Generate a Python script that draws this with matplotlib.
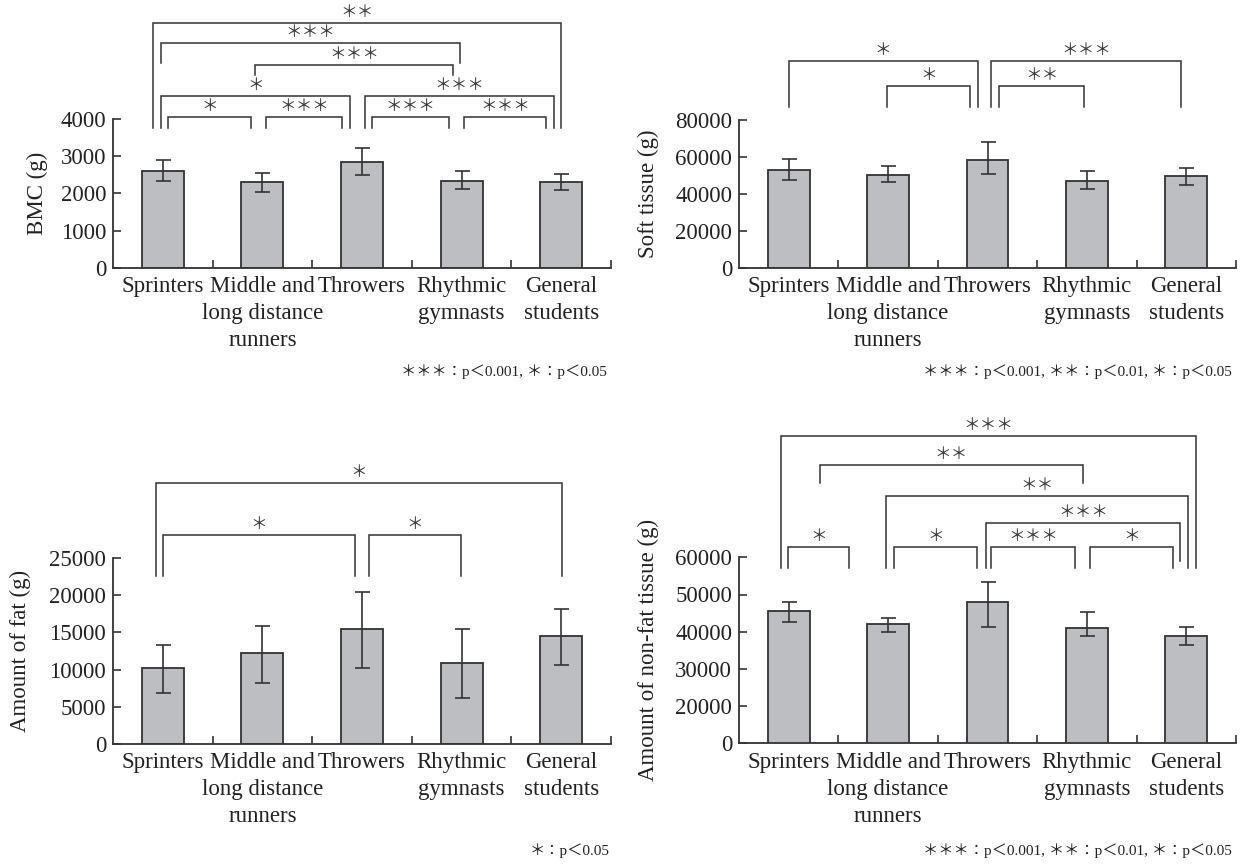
import matplotlib
matplotlib.use("Agg")
import matplotlib.pyplot as plt
import numpy as np

# ---------------- data ----------------
categories = ["Sprinters", "Middle and\nlong distance\nrunners", "Throwers",
              "Rhythmic\ngymnasts", "General\nstudents"]

bmc_mean = [2600, 2310, 2850, 2340, 2310]
bmc_err_lo = [270, 270, 365, 230, 225]
bmc_err_hi = [290, 245, 378, 260, 210]

soft_mean = [53000, 50000, 58100, 47000, 49500]
soft_err_lo = [5600, 3500, 7650, 4650, 4850]
soft_err_hi = [5750, 4900, 9650, 5200, 4350]

fat_mean = [10220, 12230, 15450, 10890, 14460]
fat_err_lo = [3300, 3970, 5180, 4640, 3840]
fat_err_hi = [3040, 3570, 5000, 4560, 3750]

nonfat_mean = [45600, 42000, 47900, 41080, 38840]
nonfat_err_lo = [2900, 2000, 6560, 2240, 2420]
nonfat_err_hi = [2500, 1600, 5460, 4140, 2420]

bmc_yticks = [0, 1000, 2000, 3000, 4000]
soft_yticks = [0, 20000, 40000, 60000, 80000]
fat_yticks = [0, 5000, 10000, 15000, 20000, 25000]
nonfat_yticks = [10000, 20000, 30000, 40000, 50000, 60000]
nonfat_yticklabels = ["0", "20000", "30000", "40000", "50000", "60000"]

# significance brackets: (x_left, x_right, y_top, y_leg_left, y_leg_right, label)
bmc_sig = [
    (0.055, 0.89, 4046, 3758, 3758, "＊"),
    (1.04, 1.80, 4046, 3758, 3758, "＊＊＊"),
    (2.10, 2.87, 4046, 3758, 3758, "＊＊＊"),
    (3.02, 3.85, 4046, 3758, 3758, "＊＊＊"),
    (-0.02, 1.88, 4619, 3758, 3758, "＊"),
    (2.03, 3.93, 4619, 3758, 3758, "＊＊＊"),
    (0.93, 2.91, 5445, 5184, 5184, "＊＊＊"),
    (-0.02, 2.98, 6036, 5498, 5498, "＊＊＊"),
    (-0.10, 4.00, 6574, 3758, 3758, "＊＊"),
]
soft_sig = [
    (0.00, 1.90, 111720, 87020, 87020, "＊"),
    (0.99, 1.82, 98370, 87020, 87020, "＊"),
    (2.04, 3.95, 111720, 87020, 87020, "＊＊＊"),
    (2.12, 2.97, 98370, 87020, 87020, "＊＊"),
]
fat_sig = [
    (-0.07, 4.01, 35120, 22580, 22580, "＊"),
    (0.00, 1.93, 28050, 22580, 22580, "＊"),
    (2.07, 2.99, 28050, 22580, 22580, "＊"),
]
nonfat_sig = [
    (-0.08, 4.095, 92600, 57040, 57040, "＊＊＊"),
    (0.31, 2.96, 84810, 79890, 79890, "＊＊"),
    (0.98, 4.02, 76560, 57040, 57040, "＊＊"),
    (1.98, 3.94, 69140, 57040, 59080, "＊＊＊"),
    (-0.01, 0.61, 62690, 57040, 57040, "＊"),
    (1.06, 1.89, 62690, 57040, 57040, "＊"),
    (2.04, 2.88, 62690, 57040, 57040, "＊＊＊"),
    (3.03, 3.87, 62690, 57040, 57040, "＊"),
]

note_3_1 = "＊＊＊：p＜0.001, ＊：p＜0.05"
note_full = "＊＊＊：p＜0.001, ＊＊：p＜0.01, ＊：p＜0.05"
note_1 = "＊：p＜0.05"

# ---------------- style ----------------
W, H = 1241, 864
fig = plt.figure(figsize=(W / 100, H / 100), dpi=100)
SERIF = ["Liberation Serif", "DejaVu Serif"]
MIXED = ["Liberation Serif", "Noto Sans CJK JP", "DejaVu Sans"]
TXT = "#222222"
LINE = "#333333"
BAR = "#bdbec2"


def px_axes(left, right, bottom, top):
    return fig.add_axes([left / W, 1 - bottom / H, (right - left) / W, (bottom - top) / H])


def panel(ax, mean, lo, hi, yticks, ylim, ylabel, label_x, sig, yticklabels=None):
    x = np.arange(len(categories))
    ax.bar(x, mean, width=0.42, color=BAR, edgecolor=LINE, linewidth=1.3, zorder=2)
    ax.errorbar(x, mean, yerr=[lo, hi], fmt="none", ecolor=LINE, elinewidth=1.2,
                capsize=5.4, capthick=1.2, zorder=3)
    ax.set_xlim(-0.5, len(categories) - 0.5)
    ax.set_ylim(*ylim)
    ax.set_yticks(yticks)
    if yticklabels is not None:
        ax.set_yticklabels(yticklabels)
    ax.set_xticks(np.arange(len(categories)) + 0.5)
    ax.set_xticklabels([])
    ax.set_xticks(x, minor=True)
    ax.set_xticklabels(categories, minor=True, family=SERIF, fontsize=16.5,
                       color=TXT, linespacing=1.38)
    ax.tick_params(axis="x", which="major", direction="in", length=5.5, width=1.2, color=LINE)
    ax.tick_params(axis="x", which="minor", length=0, pad=6)
    ax.tick_params(axis="y", direction="in", length=5.5, width=1.2, color=LINE, pad=5,
                   labelsize=16.5, labelcolor=TXT)
    for lab in ax.get_yticklabels():
        lab.set_family(SERIF)
    for s in ["top", "right"]:
        ax.spines[s].set_visible(False)
    for s in ["left", "bottom"]:
        ax.spines[s].set_color(LINE)
        ax.spines[s].set_linewidth(1.3)
    ax.set_ylabel(ylabel, family=SERIF, fontsize=16.5, color=TXT)
    ax.yaxis.set_label_coords(label_x, 0.5)
    for (x1, x2, yt, y1, y2, lab) in sig:
        ax.plot([x1, x1, x2, x2], [y1, yt, yt, y2], color=LINE, lw=1.1,
                clip_on=False, zorder=4, solid_joinstyle="miter")
        ax.annotate(lab, xy=((x1 + x2) / 2, yt), xytext=(0, 7.5),
                    textcoords="offset points", ha="center", va="center",
                    fontsize=12, family=["Noto Sans CJK JP", "DejaVu Sans"],
                    color="#3a3a3a", annotation_clip=False)


ax1 = px_axes(113, 611, 267.7, 119)
panel(ax1, bmc_mean, bmc_err_lo, bmc_err_hi, bmc_yticks, (0, 4000), "BMC (g)", -0.1305, bmc_sig)

ax2 = px_axes(739, 1236, 267.7, 119.7)
panel(ax2, soft_mean, soft_err_lo, soft_err_hi, soft_yticks, (0, 80000), "Soft tissue (g)", -0.161, soft_sig)

ax3 = px_axes(113, 611, 744, 558)
panel(ax3, fat_mean, fat_err_lo, fat_err_hi, fat_yticks, (0, 25000), "Amount of fat (g)", -0.165, fat_sig)

ax4 = px_axes(739, 1236, 743.3, 557.3)
panel(ax4, nonfat_mean, nonfat_err_lo, nonfat_err_hi, nonfat_yticks, (10000, 60000),
      "Amount of non-fat tissue (g)", -0.161, nonfat_sig, yticklabels=nonfat_yticklabels)

fig.text(607 / W, 1 - 372 / H, note_3_1, ha="right", va="center", fontsize=11,
         family=MIXED, color=TXT)
fig.text(1232 / W, 1 - 372 / H, note_full, ha="right", va="center", fontsize=11,
         family=MIXED, color=TXT)
fig.text(610 / W, 1 - 851 / H, note_1, ha="right", va="center", fontsize=11,
         family=MIXED, color=TXT)
fig.text(1232 / W, 1 - 851 / H, note_full, ha="right", va="center", fontsize=11,
         family=MIXED, color=TXT)

fig.savefig("out.png", dpi=100, facecolor="white")
